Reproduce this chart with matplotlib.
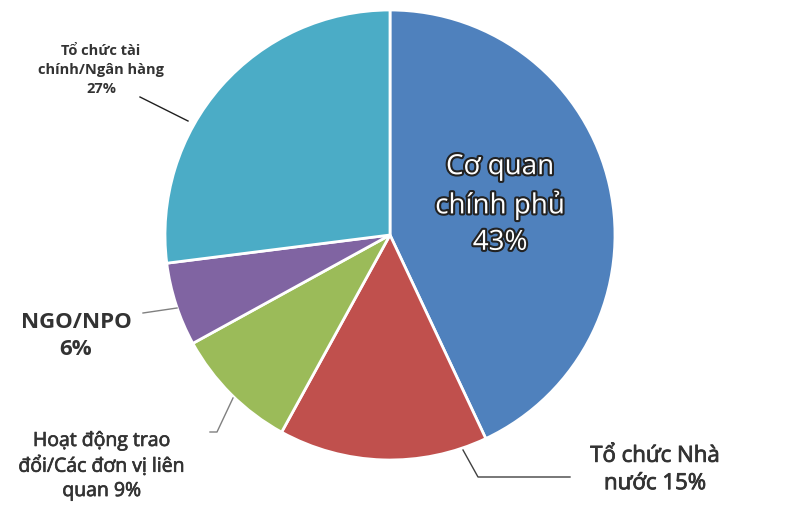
import matplotlib
matplotlib.use("Agg")
import matplotlib.pyplot as plt
import matplotlib.patheffects as pe

plt.rcParams['font.family'] = ['Open Sans', 'DejaVu Sans']

labels = ["Cơ quan\nchính phủ\n43%", "Tổ chức Nhà\nnước 15%",
          "Hoạt động trao\nđổi/Các đơn vị liên\nquan 9%", "NGO/NPO\n6%",
          "Tổ chức tài\nchính/Ngân hàng\n27%"]
values = [43, 15, 9, 6, 27]
colors = ["#4F81BD", "#C0504D", "#9BBB59", "#8064A2", "#4BACC6"]

W, H = 787, 509
fig = plt.figure(figsize=(W / 100, H / 100), dpi=100)
# pie centre (390,235) px, radius 225 px
ax = fig.add_axes([165 / W, (H - 460) / H, 450 / W, 450 / H])
ax.pie(values, colors=colors, startangle=90, counterclock=False, radius=1,
       wedgeprops=dict(edgecolor="white", linewidth=2))
ax.set_xlim(-1, 1)
ax.set_ylim(-1, 1)
ax.set_aspect("equal")
ax.axis("off")


def px(x, y):
    return ((x - 390) / 225, (235 - y) / 225)


txt = "#333333"

# main label inside blue slice
ax.text(*px(500, 205), labels[0], ha="center", va="center", fontsize=20,
        color="white", linespacing=1.4, clip_on=False,
        path_effects=[pe.withStroke(linewidth=3, foreground="#222222")])

# Tổ chức Nhà nước
ax.text(*px(655, 470), labels[1], ha="center", va="center", fontsize=16,
        color=txt, linespacing=1.4, clip_on=False,
        path_effects=[pe.withStroke(linewidth=0.6, foreground=txt)])
ax.plot(*zip(px(463, 450), px(478, 477), px(570, 477)), color="#404040",
        lw=1, clip_on=False)

# Hoạt động trao đổi
ax.text(*px(102, 466), labels[2], ha="center", va="center", fontsize=14,
        color=txt, linespacing=1.45, clip_on=False,
        path_effects=[pe.withStroke(linewidth=0.5, foreground=txt)])
ax.plot(*zip(px(233, 398), px(217, 432), px(210, 432)), color="#808080",
        lw=1, clip_on=False)

# NGO/NPO
ax.text(*px(76, 336), labels[3], ha="center", va="center", fontsize=16,
        fontweight="bold", color=txt, linespacing=1.4, clip_on=False)
ax.plot(*zip(px(143, 313), px(177, 308)), color="#808080", lw=1,
        clip_on=False)

# Tổ chức tài chính
ax.text(*px(101, 70), labels[4], ha="center", va="center", fontsize=10.5,
        fontweight="bold", color=txt, linespacing=1.45, clip_on=False)
ax.plot(*zip(px(140, 97), px(188, 121)), color="#202020", lw=1,
        clip_on=False)

fig.savefig("out.png", dpi=100, facecolor="white")
